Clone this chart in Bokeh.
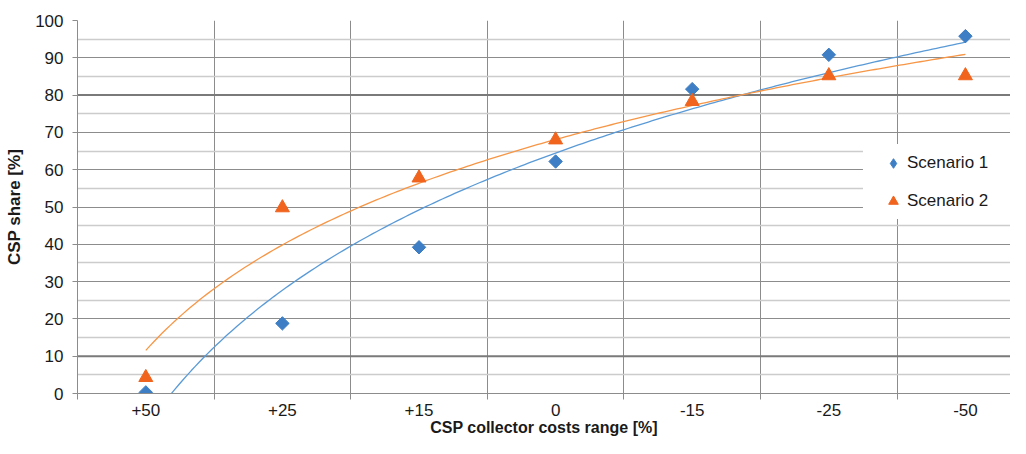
import numpy as np
from bokeh.plotting import figure
from bokeh.models import FixedTicker, Legend, LegendItem, Range1d, Span
from bokeh.embed import file_html
from bokeh.resources import INLINE

categories = ["+50", "+25", "+15", "0", "-15", "-25", "-50"]
scenario1 = [0.3, 18.8, 39.2, 62.2, 81.6, 90.8, 95.8]
scenario2 = [4.3, 49.8, 57.8, 68.0, 78.3, 85.2, 85.2]
y_ticks = list(range(0, 101, 10))

xs = np.arange(1, len(categories) + 1)

FONT = "Liberation Sans"
BLUE_M = "#3d7ec4"
ORANGE_M = "#f0641e"
BLUE_L = "#5a9ad6"
ORANGE_L = "#f79646"

p = figure(width=1010, height=438, output_backend="svg", toolbar_location=None,
           x_range=Range1d(0.5, 7.33), y_range=Range1d(0, 100),
           min_border_left=77, min_border_right=0, min_border_top=20, min_border_bottom=44)
p.outline_line_color = None
p.background_fill_color = "white"
p.border_fill_color = "white"

# grids
p.ygrid.ticker = FixedTicker(ticks=y_ticks, minor_ticks=list(range(5, 100, 10)))
p.ygrid.grid_line_color = "#8c8c8c"
p.ygrid.grid_line_width = 1
p.ygrid.minor_grid_line_color = "#cccccc"
p.ygrid.minor_grid_line_width = 1.5
p.xgrid.ticker = FixedTicker(ticks=[1.5, 2.5, 3.5, 4.5, 5.5, 6.5])
p.xgrid.grid_line_color = "#8c8c8c"

for yv in (10, 80):
    p.add_layout(Span(location=yv, dimension="width", line_color="#7a7a7a", line_width=2, level="underlay"))

# axes
p.xaxis.ticker = FixedTicker(ticks=list(xs), minor_ticks=[0.5, 1.5, 2.5, 3.5, 4.5, 5.5, 6.5, 7.5])
p.xaxis.major_label_overrides = {int(x): c for x, c in zip(xs, categories)}
p.xaxis.major_tick_line_color = None
p.xaxis.major_tick_out = 0
p.xaxis.major_tick_in = 0
p.xaxis.minor_tick_line_color = "#8c8c8c"
p.xaxis.minor_tick_out = 6
p.xaxis.minor_tick_in = 0
p.xaxis.axis_line_color = "#8c8c8c"
p.xaxis.major_label_standoff = 4
p.xaxis.axis_label = "CSP collector costs range [%]"

p.yaxis.ticker = FixedTicker(ticks=y_ticks)
p.yaxis.minor_tick_line_color = None
p.yaxis.major_tick_line_color = "#8c8c8c"
p.yaxis.major_tick_out = 5
p.yaxis.major_tick_in = 0
p.yaxis.axis_line_color = "#8c8c8c"
p.yaxis.major_label_standoff = 9
p.yaxis.axis_label = "CSP share [%]"

for ax in (p.xaxis, p.yaxis):
    ax.major_label_text_font = FONT
    ax.major_label_text_font_size = "17px"
    ax.major_label_text_color = "#1a1a1a"
    ax.axis_label_text_font = FONT
    ax.axis_label_text_font_size = "17px"
    ax.axis_label_text_font_style = "bold"
    ax.axis_label_text_color = "#1a1a1a"
p.xaxis.axis_label_text_font_size = "16px"
p.xaxis.axis_label_standoff = 0
p.yaxis.axis_label_standoff = 8

# logarithmic trend lines (least-squares fit y = a*ln(x) + b)
xf = np.linspace(1, 7, 200)
a1, b1 = np.polyfit(np.log(xs), scenario1, 1)
a2, b2 = np.polyfit(np.log(xs), scenario2, 1)
p.line(xf, a1 * np.log(xf) + b1, line_color=BLUE_L, line_width=1.3)
p.line(xf, a2 * np.log(xf) + b2, line_color=ORANGE_L, line_width=1.3)

p.scatter(xs, scenario1, marker="square", angle=np.pi / 4, size=9.5,
          fill_color=BLUE_M, line_color=BLUE_M)
r2 = p.scatter(xs, scenario2, marker="triangle", size=14, fill_color=ORANGE_M, line_color=ORANGE_M)
# legend-only glyph for the diamond marker (not drawn in the plot: NaN position)
r1 = p.scatter([np.nan], [np.nan], marker="diamond", size=12, fill_color=BLUE_M, line_color=BLUE_M)

# legend background box
p.quad(left=[6.25], right=[7.6], bottom=[46.8], top=[66.9], fill_color="white", line_color=None)

legend = Legend(items=[LegendItem(label="Scenario 1", renderers=[r1]),
                       LegendItem(label="Scenario 2", renderers=[r2])],
                location=(804, 179), background_fill_alpha=0, border_line_color=None,
                label_text_font=FONT, label_text_font_size="17px", label_text_color="#1a1a1a",
                glyph_width=24, glyph_height=26, label_standoff=2, spacing=12, padding=4, margin=0)
p.add_layout(legend, "center")

open("out.html", "w").write(file_html(p, INLINE))
